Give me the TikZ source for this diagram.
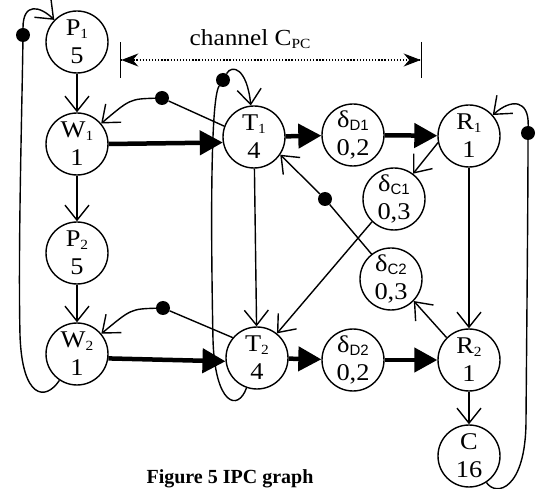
\documentclass[tikz,border=0pt]{standalone}
\usepackage{fontspec}
\setmainfont{Liberation Serif}[FakeStretch=1.1]
\setsansfont{Liberation Sans}
\newfontfamily\capfont{Liberation Serif}
\usetikzlibrary{arrows.meta,positioning}

\newcommand{\ssub}[1]{\raisebox{-2.5pt}{\fontsize{14}{14}\selectfont #1}}
\newcommand{\dsub}[1]{\raisebox{-3pt}{\fontsize{15}{15}\sffamily #1}}

\begin{document}
\begin{tikzpicture}[x=1pt,y=1pt,yscale=-1,
  place/.style = {draw, circle, line width=1.4pt, minimum size=62pt,
  inner sep=0pt, align=center, font=\fontsize{24}{28}\selectfont},
  token/.style = {circle, fill=black, inner sep=0pt, minimum size=14pt},
  flow/.style = {line width=1.4pt, -{Straight Barb[length=15pt 0 0,width=24pt 0 0,line width=1.4pt]}},
  bigflow/.style = {line width=4.5pt, -{Triangle[length=23pt,width=24pt]}},
  channel/.style = {line width=1.3pt, dash pattern=on 1.3pt off 1.8pt,
  {Bar[width=36pt]Stealth[length=17pt,width=13pt]}-{Stealth[length=17pt,width=13pt]Bar[width=36pt]}}
  ]
  \useasboundingbox (0,0) rectangle (539,489);

  \node[place] (P1) at (77,42) {P\ssub{1}\\5};
  \node[place] (W1) at (77,144) {W\ssub{1}\\1};
  \node[place] (P2) at (77,253) {P\ssub{2}\\5};
  \node[place] (W2) at (77,354) {W\ssub{2}\\1};
  \node[place] (T1) at (254,137) {T\ssub{1}\\4};
  \node[place] (T2) at (257,358) {T\ssub{2}\\4};
  \node[place] (D1) at (353,135) {δ\dsub{D1}\\0,2};
  \node[place] (R1) at (469,136) {R\ssub{1}\\1};
  \node[place] (C1) at (394,199) {δ\dsub{C1}\\0,3};
  \node[place] (C2) at (391,279) {δ\dsub{C2}\\0,3};
  \node[place] (D2) at (353,360) {δ\dsub{D2}\\0,2};
  \node[place] (R2) at (469,360) {R\ssub{2}\\1};
  \node[place] (C) at (469,456) {C\\16};

  % tokens
  \node[token] (k0) at (23,35) {};
  \node[token] (k1) at (162,98) {};
  \node[token] (k2) at (163,308) {};
  \node[token] (k3) at (223,80) {};
  \node[token] (k4) at (528,133) {};
  \node[token] (k5) at (325,199) {};

  \draw[flow] (P1) -- (W1);
  \draw[flow] (W1) -- (P2);
  \draw[flow] (P2) -- (W2);
  \draw[flow] (T1) -- (T2);
  \draw[flow] (R1) -- (R2);
  \draw[flow] (R2) -- (C);

  \draw[bigflow] (W1.east) -- (T1.190);
  \draw[bigflow] (W2.-8) -- (T2.186);
  \draw[bigflow] (T1) -- (D1);
  \draw[bigflow] (D1) -- (R1);
  \draw[bigflow] (T2) -- (D2);
  \draw[bigflow] (D2) -- (R2);

  \draw[flow] (R1.192) -- (C1.53);
  \draw[flow] (R2.135) -- (C2.-44);
  \draw[flow] (C1.226) -- (T2.51);
  \draw[flow] (C2.128) -- (k5) -- (T1.-34);

  \draw[flow] (T1.160) -- (k1) .. controls (130,99) .. (W1);
  \draw[flow] (T2.140) -- (k2) .. controls (131,309) .. (W2);

  % loops
  \draw[flow] (W2) .. controls (45,402) and (22,398) .. (20,335)
    .. controls (18,250) and (22,110) .. (k0)
    .. controls (23,2) and (40,6) .. (P1);
  \draw[flow] (T2) .. controls (238,412) and (215,405) .. (213,340)
    .. controls (211,240) and (210,100) .. (k3)
    .. controls (232,64) and (247,68) .. (T1);
  \draw[flow] (C) .. controls (496,497) and (526,490) .. (526,420)
    .. controls (527,300) and (528,200) .. (k4)
    .. controls (529,100) and (512,98) .. (R1);

  % channel
  \coordinate (chL) at (120,60);
  \coordinate (chR) at (422,60);
  \draw[channel] (chL) -- (chR);
  \node[anchor=base, font=\fontsize{23}{26}\selectfont] (chlab) at (250,46) {channel C\ssub{PC}};

  \node[anchor=base, font={\fontsize{20}{24}\selectfont\capfont\bfseries}] (caption) at (230,484) {Figure 5 IPC graph};
\end{tikzpicture}
\end{document}
